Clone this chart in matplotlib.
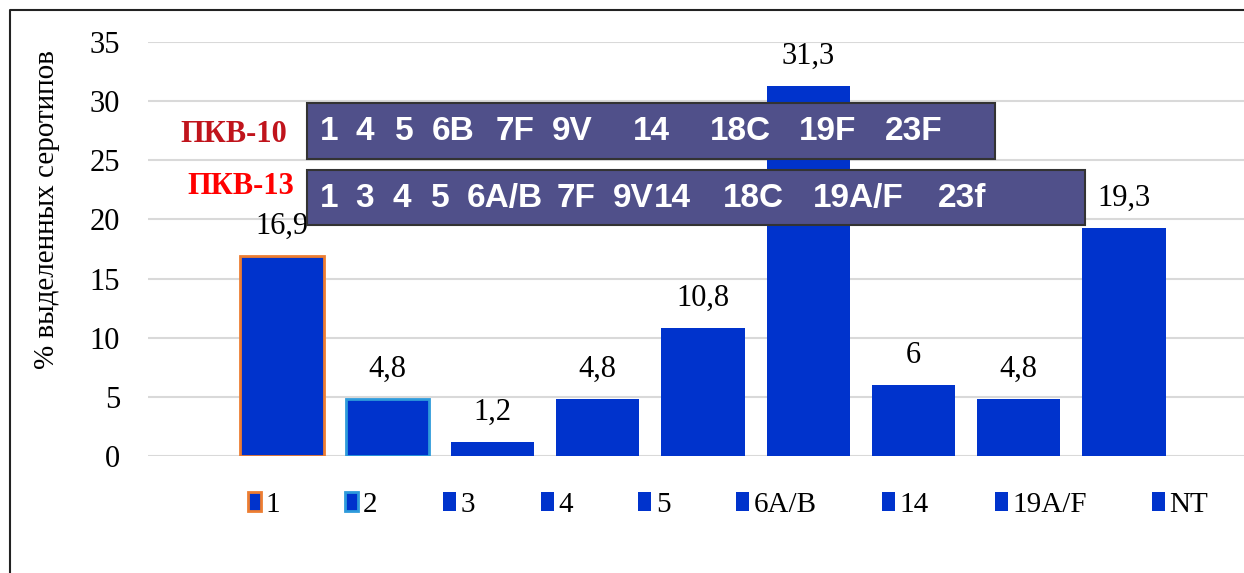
import matplotlib
matplotlib.use("Agg")
import matplotlib.pyplot as plt
from matplotlib.patches import Rectangle
from matplotlib.lines import Line2D

# данные
categories = ["1", "2", "3", "4", "5", "6A/B", "14", "19A/F", "NT"]
values = [16.9, 4.8, 1.2, 4.8, 10.8, 31.3, 6, 4.8, 19.3]
edge_colors = ["#ED7D31", "#2E9BDB", "#0033CC", "#0033CC", "#0033CC",
               "#0033CC", "#0033CC", "#0033CC", "#0033CC"]
pcv10 = ["1", "4", "5", "6B", "7F", "9V", "14", "18C", "19F", "23F"]
pcv13 = ["1", "3", "4", "5", "6A/B", "7F", "9V", "14", "18C", "19A/F", "23f"]

W, H = 1244, 573
plt.rcParams['font.family'] = ['Liberation Serif', 'DejaVu Serif']

fig = plt.figure(figsize=(W / 100, H / 100), dpi=100)


def px(x, y):
    return x / W, 1 - y / H


ax = fig.add_axes([148 / W, (H - 456) / H, (W - 148) / W, (456 - 42) / H])

for i, (cat, val) in enumerate(zip(categories, values)):
    lw = 2 if i < 2 else 0
    ax.bar(i, val, width=0.79, color="#0033CC", edgecolor=edge_colors[i],
           linewidth=lw, label=cat, zorder=3)
    ax.annotate("{:g}".format(val).replace(".", ","), (i, val),
                xytext=(0, 11), textcoords="offset points",
                ha="center", va="bottom", fontsize=22, zorder=4)

ax.set_ylim(0, 35)
ax.set_xlim(-1.273, 9.14)
ax.set_yticks(range(0, 36, 5))
ax.set_xticks([])
ax.yaxis.grid(True, color="#D9D9D9", linewidth=1.5, zorder=0)
ax.tick_params(axis="y", length=0, pad=20, labelsize=22)
for s in ax.spines.values():
    s.set_visible(False)

fig.text(47 / W, 1 - 210 / H, "% выделенных серотипов", rotation=90,
         ha="center", va="center", fontsize=21)

leg = ax.legend(loc="center", bbox_to_anchor=(px(728, 505)),
                bbox_transform=fig.transFigure, ncol=9, frameon=False,
                fontsize=21, handlelength=0.45, handleheight=0.6,
                handletextpad=0.15, columnspacing=2.25)

# врезки с составом вакцин
boxes = [(103, 159, 995, pcv10,
          [329, 365, 404, 453, 515, 572, 651, 740, 828, 914]),
         (170, 225, 1085, pcv13,
          [329, 365, 402, 440, 505, 576, 633, 672, 753, 858, 962])]
for top, bot, right, tokens, xs in boxes:
    x0, y0 = px(307, bot)
    x1, y1 = px(right, top)
    fig.add_artist(Rectangle((x0, y0), x1 - x0, y1 - y0,
                             transform=fig.transFigure, facecolor="#50508A",
                             edgecolor="#333333", linewidth=1.5, zorder=10))
    yc = (top + bot) / 2 + 1
    for t, xc in zip(tokens, xs):
        fx, fy = px(xc, yc)
        fig.text(fx, fy, t, ha="center", va="center", color="white",
                 fontsize=24, fontweight="bold", family="Liberation Sans",
                 zorder=11)

fig.text(*px(234, 134), "ПКВ-10", ha="center", va="center",
         color="#C0141C", fontsize=22, fontweight="bold")
fig.text(*px(241, 187), "ПКВ-13", ha="center", va="center",
         color="#FF0000", fontsize=22, fontweight="bold")

# рамка
fig.add_artist(Line2D([10 / W, 10 / W, 1], [0, 1 - 10 / H, 1 - 10 / H],
                      transform=fig.transFigure, color="#222222",
                      linewidth=1.5))

plt.savefig("out.png", dpi=100)
